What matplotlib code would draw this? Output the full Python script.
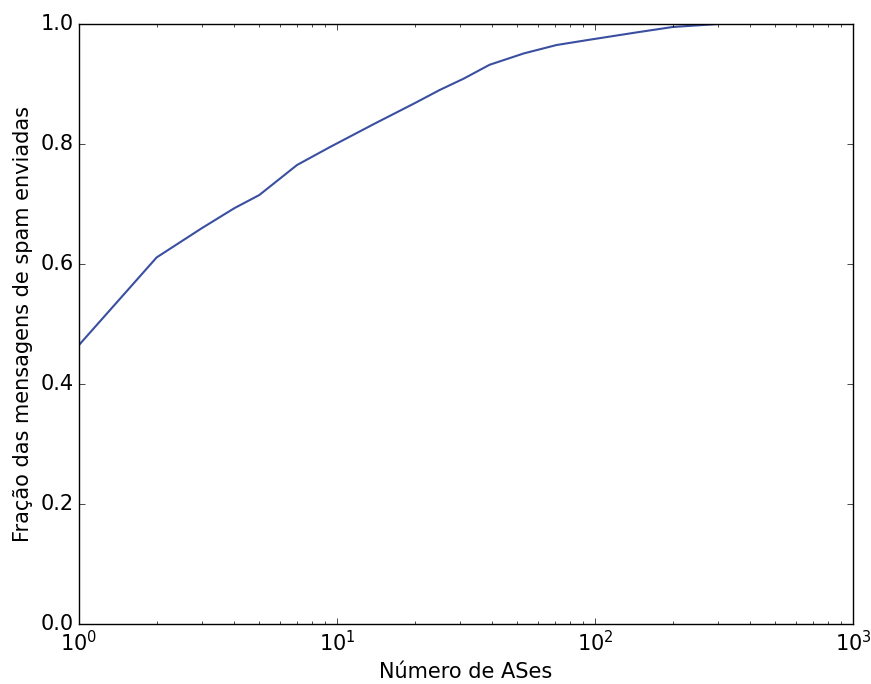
import matplotlib
matplotlib.use("Agg")
import matplotlib.pyplot as plt

plt.style.use("classic")

num_ases = [1, 2, 3, 4, 5, 7, 9.4, 14, 20, 25, 31, 39, 53, 71, 96, 145, 200, 300]
fracao = [0.465, 0.611, 0.660, 0.693, 0.715, 0.765, 0.795, 0.834, 0.868, 0.890,
          0.909, 0.932, 0.951, 0.965, 0.974, 0.986, 0.995, 1.0]

fig = plt.figure(figsize=(8.71, 6.84), dpi=100, facecolor="white")
ax = fig.add_axes([79/871, 60/684, (853-79)/871, (624-24)/684])
ax.plot(num_ases, fracao, color="#3a4fa0", linewidth=1.5)
ax.set_xscale("log")
ax.set_xlim(1, 1000)
ax.set_ylim(0, 1.0)
ax.set_xlabel("Número de ASes", fontsize=15)
ax.set_ylabel("Fração das mensagens de spam enviadas", fontsize=15)
ax.tick_params(labelsize=15)
fig.savefig("out.png", dpi=100, facecolor="white")
